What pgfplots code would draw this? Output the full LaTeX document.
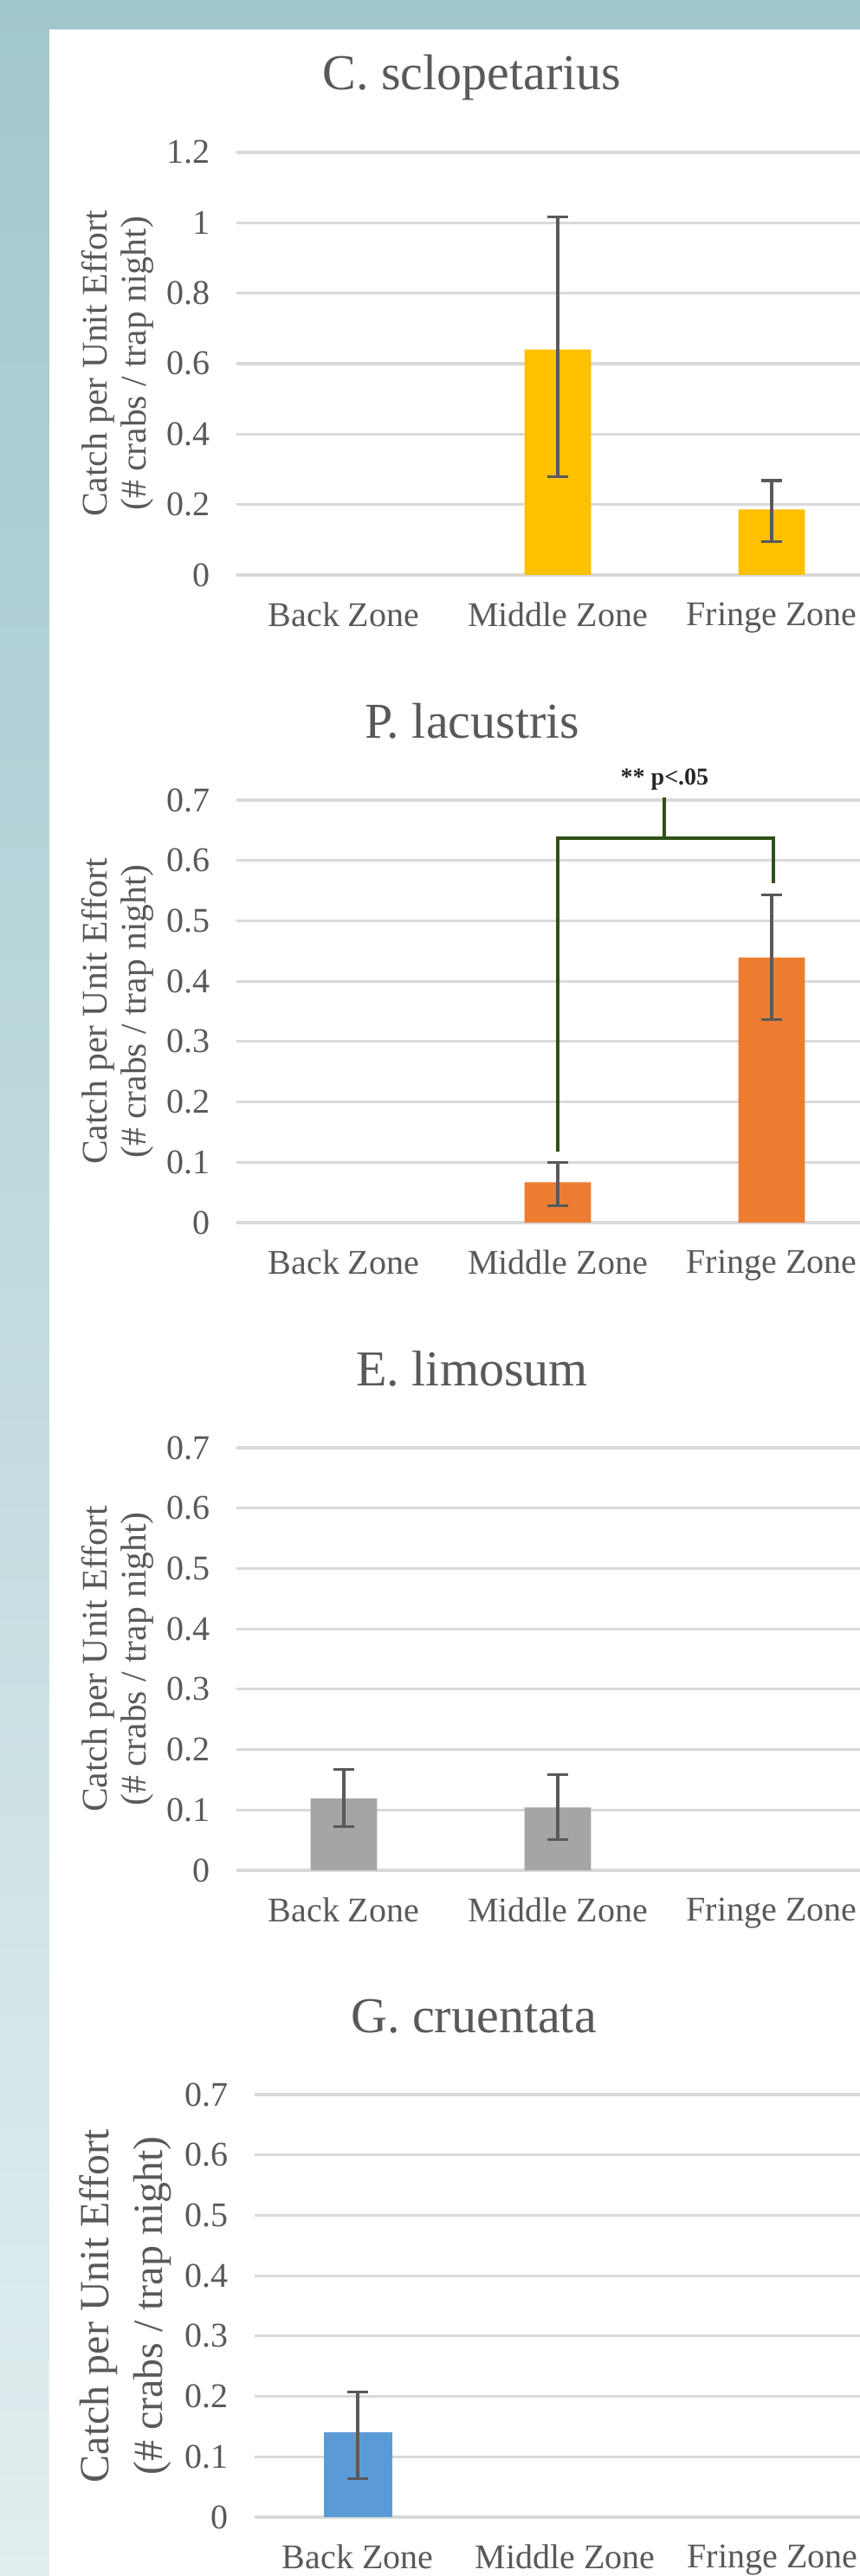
\documentclass[border=0pt]{standalone}
\usepackage{pgfplots}
\pgfplotsset{compat=1.18}
\usepackage{fontspec}
\setmainfont{Liberation Serif}
\definecolor{txt}{HTML}{595959}
\definecolor{gridc}{HTML}{D9D9D9}
\definecolor{errc}{HTML}{595959}
\definecolor{gold}{HTML}{FFC000}
\definecolor{orng}{HTML}{ED7D31}
\definecolor{gry}{HTML}{A5A5A5}
\definecolor{blu}{HTML}{5B9BD5}
\definecolor{brk}{HTML}{2F5016}
\definecolor{bgtop}{HTML}{A0C7CD}
\definecolor{bgbot}{HTML}{E2EEF0}
\pgfplotsset{
  crab/.style={
    scale only axis,
    anchor=south west,
    axis line style={draw=none},
    major tick length=0pt,
    ymajorgrids,
    grid style={gridc, line width=0.8pt},
    ymin=0,
    xtick={0,1,2},
    xticklabels={Back Zone, Middle Zone, Fringe Zone},
    tick label style={font=\fontsize{10}{12}\selectfont, color=txt},
    /pgf/number format/assume math mode=true,
    yticklabel style={xshift=-4.2pt},
    xticklabel style={yshift=-4.4pt},
    clip=false,
    title style={font=\fontsize{14.5}{17}\selectfont, color=txt, anchor=base, yshift=12pt},
    ylabel style={align=center, anchor=center, color=txt},
  },
  ebar/.style={
    error bars/.cd, y dir=both, y explicit,
    error bar style={errc, line width=0.8pt},
    error mark options={rotate=90, mark size=3.1pt, errc, line width=0.8pt},
  },
}
\begin{document}
\begin{tikzpicture}
\useasboundingbox (0,0) rectangle (248.25pt,743.75pt);
\shade[top color=bgtop, bottom color=bgbot] (0,0) rectangle (248.25pt,743.75pt);
\fill[white] (14.25pt,0) rectangle (248.25pt,735.25pt);

% Chart 1
\begin{axis}[crab,
  at={(68.25pt,577.75pt)}, width=180pt, height=122pt,
  xmin=-0.502, xmax=2.413, ymax=1.2,
  ytick={0,0.2,0.4,0.6,0.8,1,1.2},
  title={C. sclopetarius},
  title style={at={(axis description cs:0.378,1)}},
  ylabel={Catch per Unit Effort\\(\# crabs / trap night)},
  ylabel style={font=\fontsize{10.4}{11.2}\selectfont, at={(axis description cs:-0.1903,0.5)}},
]
\addplot[ybar, bar width=0.31, fill=gold, draw=none, ebar]
  coordinates {(1,0.64) += (0,0.376) -= (0,0.36) (2,0.186) += (0,0.082) -= (0,0.091)};
\end{axis}

% Chart 2
\begin{axis}[crab,
  at={(68.25pt,390.75pt)}, width=180pt, height=122pt,
  xmin=-0.502, xmax=2.413, ymax=0.7,
  ytick={0,0.1,0.2,0.3,0.4,0.5,0.6,0.7},
  title={P. lacustris},
  title style={at={(axis description cs:0.378,1)}},
  ylabel={Catch per Unit Effort\\(\# crabs / trap night)},
  ylabel style={font=\fontsize{10.4}{11.2}\selectfont, at={(axis description cs:-0.1903,0.5)}},
]
\addplot[ybar, bar width=0.31, fill=orng, draw=none, ebar]
  coordinates {(1,0.067) += (0,0.033) -= (0,0.039) (2,0.439) += (0,0.104) -= (0,0.103)};
\addplot[brk, line width=1pt, no marks, sharp plot]
  coordinates {(1,0.118) (1,0.6375) (2.01,0.6375) (2.01,0.563)};
\addplot[brk, line width=1pt, no marks, sharp plot]
  coordinates {(1.5,0.6375) (1.5,0.7045)};
\node[font=\bfseries\fontsize{7}{8}\selectfont, color=black!85, anchor=base] at (axis cs:1.5,0.7256) {** p<.05};
\end{axis}

% Chart 3
\begin{axis}[crab,
  at={(68.25pt,203.75pt)}, width=180pt, height=122pt,
  xmin=-0.502, xmax=2.413, ymax=0.7,
  ytick={0,0.1,0.2,0.3,0.4,0.5,0.6,0.7},
  title={E. limosum},
  title style={at={(axis description cs:0.378,1)}},
  ylabel={Catch per Unit Effort\\(\# crabs / trap night)},
  ylabel style={font=\fontsize{10.4}{11.2}\selectfont, at={(axis description cs:-0.1903,0.5)}},
]
\addplot[ybar, bar width=0.31, fill=gry, draw=none, ebar]
  coordinates {(0,0.119) += (0,0.048) -= (0,0.047) (1,0.104) += (0,0.054) -= (0,0.053)};
\end{axis}

% Chart 4
\begin{axis}[crab,
  at={(73.5pt,17pt)}, width=174.75pt, height=122pt,
  xmin=-0.497, xmax=2.422, ymax=0.7,
  ytick={0,0.1,0.2,0.3,0.4,0.5,0.6,0.7},
  title={G. cruentata},
  title style={at={(axis description cs:0.362,1)}},
  ylabel={Catch per Unit Effort\\(\# crabs / trap night)},
  ylabel style={font=\fontsize{12}{15.5}\selectfont, at={(axis description cs:-0.2139,0.5)}},
]
\addplot[ybar, bar width=0.33, fill=blu, draw=none, ebar]
  coordinates {(0,0.14) += (0,0.067) -= (0,0.076)};
\end{axis}
\end{tikzpicture}
\end{document}
